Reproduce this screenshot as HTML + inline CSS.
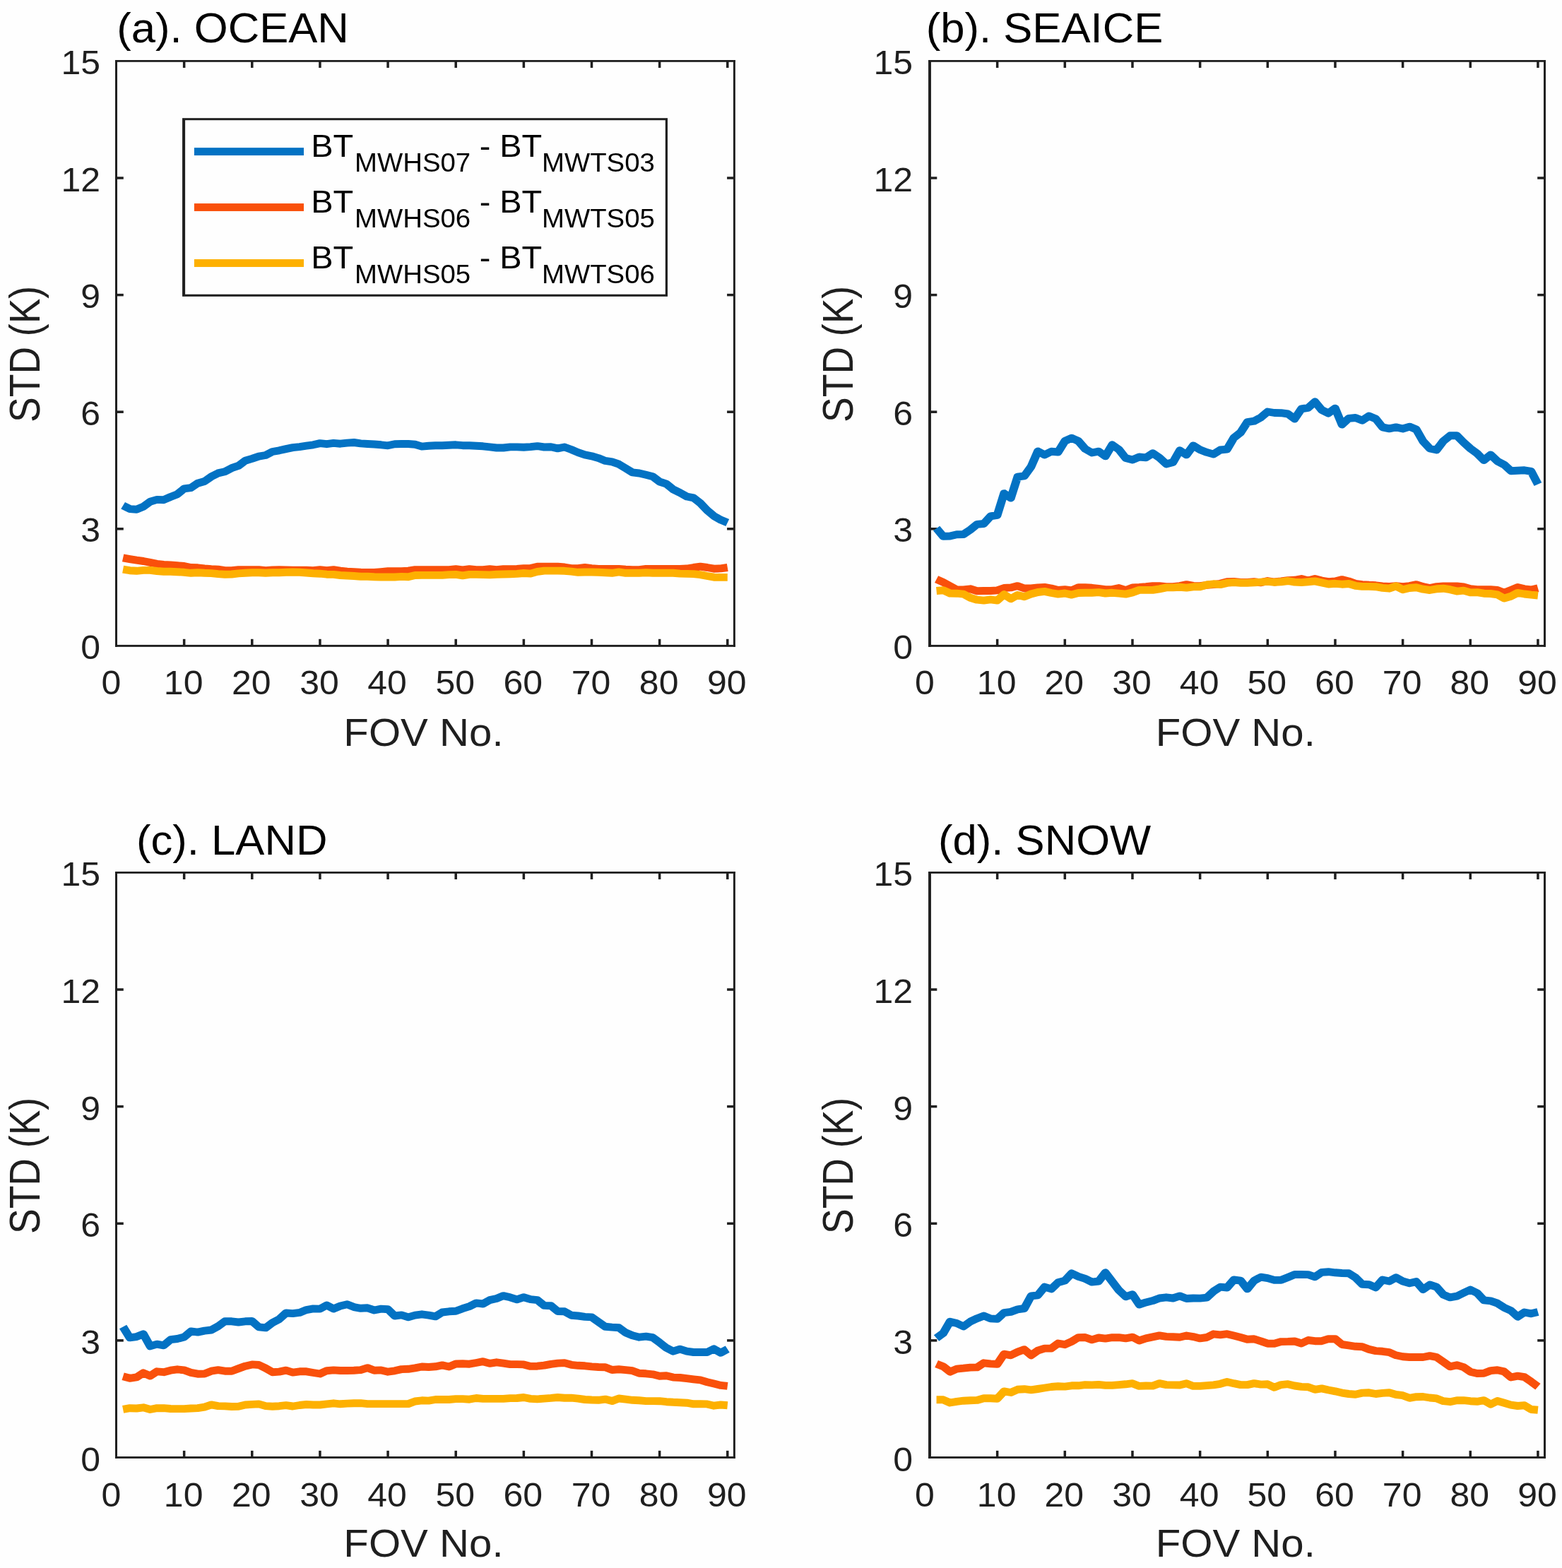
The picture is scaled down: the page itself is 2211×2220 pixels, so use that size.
<!DOCTYPE html>
<html lang="en">
<head>
<meta charset="utf-8">
<title>STD of BT differences versus FOV No.</title>
<style>
html,body{margin:0;padding:0;background:#fefefe;}
body{width:2211px;height:2220px;overflow:hidden;}
svg{display:block;}
text{font-family:"Liberation Sans", Arial, Helvetica, sans-serif;white-space:pre;}
</style>
</head>
<body>
<svg width="2211" height="2220" viewBox="0 0 2211 2220" font-family='"Liberation Sans", Arial, Helvetica, sans-serif'>
<rect x="0" y="0" width="2211" height="2220" fill="#fefefe"/>
<g id="panel-a">
<rect x="258.89" y="904.80" width="3.50" height="9.60" fill="#1f1f1f"/>
<rect x="258.89" y="86.40" width="3.50" height="9.60" fill="#1f1f1f"/>
<rect x="355.04" y="904.80" width="3.50" height="9.60" fill="#1f1f1f"/>
<rect x="355.04" y="86.40" width="3.50" height="9.60" fill="#1f1f1f"/>
<rect x="451.18" y="904.80" width="3.50" height="9.60" fill="#1f1f1f"/>
<rect x="451.18" y="86.40" width="3.50" height="9.60" fill="#1f1f1f"/>
<rect x="547.32" y="904.80" width="3.50" height="9.60" fill="#1f1f1f"/>
<rect x="547.32" y="86.40" width="3.50" height="9.60" fill="#1f1f1f"/>
<rect x="643.46" y="904.80" width="3.50" height="9.60" fill="#1f1f1f"/>
<rect x="643.46" y="86.40" width="3.50" height="9.60" fill="#1f1f1f"/>
<rect x="739.61" y="904.80" width="3.50" height="9.60" fill="#1f1f1f"/>
<rect x="739.61" y="86.40" width="3.50" height="9.60" fill="#1f1f1f"/>
<rect x="835.75" y="904.80" width="3.50" height="9.60" fill="#1f1f1f"/>
<rect x="835.75" y="86.40" width="3.50" height="9.60" fill="#1f1f1f"/>
<rect x="931.89" y="904.80" width="3.50" height="9.60" fill="#1f1f1f"/>
<rect x="931.89" y="86.40" width="3.50" height="9.60" fill="#1f1f1f"/>
<rect x="1028.04" y="904.80" width="3.50" height="9.60" fill="#1f1f1f"/>
<rect x="1028.04" y="86.40" width="3.50" height="9.60" fill="#1f1f1f"/>
<rect x="164.50" y="747.05" width="10.30" height="3.50" fill="#1f1f1f"/>
<rect x="1029.10" y="747.05" width="10.30" height="3.50" fill="#1f1f1f"/>
<rect x="164.50" y="581.45" width="10.30" height="3.50" fill="#1f1f1f"/>
<rect x="1029.10" y="581.45" width="10.30" height="3.50" fill="#1f1f1f"/>
<rect x="164.50" y="415.85" width="10.30" height="3.50" fill="#1f1f1f"/>
<rect x="1029.10" y="415.85" width="10.30" height="3.50" fill="#1f1f1f"/>
<rect x="164.50" y="250.25" width="10.30" height="3.50" fill="#1f1f1f"/>
<rect x="1029.10" y="250.25" width="10.30" height="3.50" fill="#1f1f1f"/>
<rect x="163.00" y="85.00" width="3.00" height="830.85" fill="#1f1f1f"/>
<rect x="1037.95" y="85.00" width="2.90" height="830.85" fill="#1f1f1f"/>
<rect x="163.00" y="85.00" width="877.85" height="2.80" fill="#1f1f1f"/>
<rect x="163.00" y="912.95" width="877.85" height="2.90" fill="#1f1f1f"/>
<polyline transform="scale(1.087,1)" fill="none" stroke="#0372c3" stroke-width="10.9" stroke-linejoin="round" stroke-linecap="butt" points="160.18,715.7 169.02,720.6 177.87,721.2 186.71,717.3 195.56,710.2 204.40,707.4 213.25,707.7 222.09,703.5 230.94,699.7 239.78,691.9 248.63,690.6 257.47,684.2 266.32,681.5 275.16,674.8 284.01,669.9 292.85,667.7 301.70,662.7 310.54,659.4 319.38,652.2 328.23,649.4 337.07,646.1 345.92,644.5 354.76,639.5 363.61,637.8 372.45,635.6 381.30,633.7 390.14,632.6 398.99,631.2 407.83,629.8 416.68,627.6 425.52,628.7 434.37,627.4 443.21,628.2 452.06,627.1 460.90,626.5 469.75,627.9 478.59,628.5 487.44,629.0 496.28,629.8 505.13,630.8 513.97,628.7 522.82,628.5 531.66,628.5 540.50,629.3 549.35,632.1 558.19,631.3 567.04,630.7 575.88,630.7 584.73,630.2 593.57,629.8 602.42,630.7 611.26,630.7 620.11,631.3 628.95,631.8 637.80,632.9 646.64,634.0 655.49,634.0 664.33,632.9 673.18,632.9 682.02,633.2 690.87,632.6 699.71,631.6 708.56,633.0 717.40,632.7 726.25,634.9 735.09,633.0 743.93,636.5 752.78,640.6 761.62,643.9 770.47,645.8 779.31,648.6 788.16,652.4 797.00,653.9 805.85,657.2 814.69,663.0 823.54,668.9 832.38,670.0 841.23,672.3 850.07,674.7 858.92,682.0 867.76,685.1 876.61,692.9 885.45,697.6 894.30,703.0 903.14,704.9 911.99,712.4 920.83,722.5 929.68,730.6 938.52,736.1 947.36,740.0"/>
<polyline transform="scale(1.087,1)" fill="none" stroke="#f9500b" stroke-width="10.9" stroke-linejoin="round" stroke-linecap="butt" points="160.18,789.8 169.02,791.6 177.87,793.2 186.71,794.5 195.56,796.3 204.40,798.3 213.25,799.4 222.09,799.9 230.94,800.7 239.78,801.5 248.63,803.5 257.47,803.8 266.32,805.0 275.16,805.7 284.01,806.2 292.85,807.7 301.70,807.7 310.54,806.6 319.38,806.6 328.23,806.6 337.07,806.6 345.92,807.7 354.76,806.9 363.61,806.6 372.45,806.9 381.30,807.2 390.14,807.2 398.99,807.2 407.83,807.7 416.68,806.6 425.52,807.7 434.37,806.6 443.21,808.1 452.06,809.2 460.90,809.6 469.75,810.3 478.59,810.5 487.44,810.5 496.28,809.6 505.13,808.8 513.97,808.8 522.82,808.8 531.66,808.1 540.50,806.6 549.35,806.6 558.19,806.6 567.04,806.6 575.88,806.6 584.73,806.6 593.57,805.7 602.42,806.9 611.26,805.7 620.11,806.6 628.95,806.6 637.80,805.7 646.64,806.6 655.49,805.7 664.33,805.7 673.18,805.4 682.02,804.6 690.87,804.6 699.71,802.2 708.56,802.2 717.40,802.2 726.25,802.2 735.09,803.0 743.93,804.6 752.78,804.6 761.62,803.5 770.47,804.6 779.31,805.4 788.16,805.4 797.00,805.4 805.85,805.4 814.69,806.2 823.54,806.6 832.38,806.6 841.23,805.4 850.07,805.4 858.92,805.4 867.76,805.4 876.61,805.4 885.45,805.4 894.30,805.0 903.14,803.5 911.99,802.2 920.83,803.5 929.68,805.2 938.52,804.9 947.36,803.5"/>
<polyline transform="scale(1.087,1)" fill="none" stroke="#fdb001" stroke-width="10.9" stroke-linejoin="round" stroke-linecap="butt" points="160.18,806.2 169.02,807.7 177.87,808.3 186.71,807.4 195.56,807.4 204.40,808.5 213.25,809.2 222.09,809.2 230.94,809.7 239.78,810.3 248.63,811.3 257.47,810.8 266.32,811.3 275.16,811.6 284.01,812.6 292.85,813.2 301.70,813.0 310.54,811.9 319.38,811.3 328.23,810.8 337.07,810.8 345.92,811.3 354.76,810.7 363.61,810.7 372.45,810.3 381.30,810.0 390.14,810.3 398.99,811.0 407.83,811.7 416.68,812.2 425.52,813.2 434.37,813.4 443.21,814.5 452.06,815.0 460.90,815.5 469.75,816.3 478.59,816.3 487.44,816.8 496.28,817.0 505.13,817.0 513.97,817.0 522.82,816.4 531.66,816.8 540.50,814.5 549.35,814.4 558.19,814.4 567.04,814.4 575.88,814.4 584.73,813.6 593.57,813.4 602.42,814.9 611.26,813.4 620.11,813.4 628.95,813.6 637.80,813.9 646.64,813.2 655.49,813.0 664.33,812.7 673.18,812.4 682.02,811.5 690.87,812.1 699.71,809.4 708.56,808.1 717.40,808.1 726.25,808.1 735.09,808.3 743.93,809.2 752.78,810.3 761.62,810.0 770.47,810.0 779.31,810.3 788.16,810.8 797.00,811.3 805.85,809.9 814.69,811.3 823.54,811.3 832.38,811.3 841.23,810.8 850.07,811.3 858.92,811.3 867.76,811.3 876.61,811.3 885.45,812.1 894.30,812.4 903.14,812.6 911.99,813.6 920.83,815.5 929.68,817.2 938.52,817.4 947.36,817.4"/>
<text transform="translate(157.30,982.80) scale(1.087,1.04)" font-size="46.0" text-anchor="middle" fill="#1f1f1f">0</text>
<text transform="translate(259.64,982.80) scale(1.087,1.04)" font-size="46.0" text-anchor="middle" fill="#1f1f1f">10</text>
<text transform="translate(355.79,982.80) scale(1.087,1.04)" font-size="46.0" text-anchor="middle" fill="#1f1f1f">20</text>
<text transform="translate(451.93,982.80) scale(1.087,1.04)" font-size="46.0" text-anchor="middle" fill="#1f1f1f">30</text>
<text transform="translate(548.07,982.80) scale(1.087,1.04)" font-size="46.0" text-anchor="middle" fill="#1f1f1f">40</text>
<text transform="translate(644.21,982.80) scale(1.087,1.04)" font-size="46.0" text-anchor="middle" fill="#1f1f1f">50</text>
<text transform="translate(740.36,982.80) scale(1.087,1.04)" font-size="46.0" text-anchor="middle" fill="#1f1f1f">60</text>
<text transform="translate(836.50,982.80) scale(1.087,1.04)" font-size="46.0" text-anchor="middle" fill="#1f1f1f">70</text>
<text transform="translate(932.64,982.80) scale(1.087,1.04)" font-size="46.0" text-anchor="middle" fill="#1f1f1f">80</text>
<text transform="translate(1028.79,982.80) scale(1.087,1.04)" font-size="46.0" text-anchor="middle" fill="#1f1f1f">90</text>
<text transform="translate(142.10,932.90) scale(1.087,1.04)" font-size="46.0" text-anchor="end" fill="#1f1f1f">0</text>
<text transform="translate(142.10,767.30) scale(1.087,1.04)" font-size="46.0" text-anchor="end" fill="#1f1f1f">3</text>
<text transform="translate(142.10,601.70) scale(1.087,1.04)" font-size="46.0" text-anchor="end" fill="#1f1f1f">6</text>
<text transform="translate(142.10,436.10) scale(1.087,1.04)" font-size="46.0" text-anchor="end" fill="#1f1f1f">9</text>
<text transform="translate(142.10,270.50) scale(1.087,1.04)" font-size="46.0" text-anchor="end" fill="#1f1f1f">12</text>
<text transform="translate(142.10,104.90) scale(1.087,1.04)" font-size="46.0" text-anchor="end" fill="#1f1f1f">15</text>
<text transform="translate(599.45,1055.70) scale(1.087,1.04)" font-size="53.5" text-anchor="middle" fill="#1f1f1f">FOV No.</text>
<text transform="translate(55.90,501.40) scale(1.1305,1) rotate(-90)" font-size="53.5" text-anchor="middle" fill="#1f1f1f">STD (K)</text>
<text transform="translate(165.20,59.90) scale(1.087,1.04)" font-size="56.7" text-anchor="start" fill="#000">(a). OCEAN</text>
<g id="legend">
<rect x="258.05" y="167.20" width="686.95" height="252.60" fill="#1f1f1f"/>
<rect x="262.10" y="170.20" width="679.70" height="246.50" fill="#fefefe"/>
<rect x="274.90" y="209.15" width="155.10" height="10.90" fill="#0372c3"/>
<text transform="translate(440.30,222.00) scale(1.087,1.04)" font-size="43.2" text-anchor="start" fill="#000">BT</text>
<text transform="translate(502.00,242.60) scale(1.087,1.04)" font-size="35.3" text-anchor="start" fill="#000">MWHS07</text>
<text transform="translate(665.60,222.00) scale(1.087,1.04)" font-size="43.2" text-anchor="start" fill="#000"> - BT</text>
<text transform="translate(767.00,242.60) scale(1.087,1.04)" font-size="35.3" text-anchor="start" fill="#000">MWTS03</text>
<rect x="274.90" y="288.05" width="155.10" height="10.90" fill="#f9500b"/>
<text transform="translate(440.30,300.90) scale(1.087,1.04)" font-size="43.2" text-anchor="start" fill="#000">BT</text>
<text transform="translate(502.00,321.50) scale(1.087,1.04)" font-size="35.3" text-anchor="start" fill="#000">MWHS06</text>
<text transform="translate(665.60,300.90) scale(1.087,1.04)" font-size="43.2" text-anchor="start" fill="#000"> - BT</text>
<text transform="translate(767.00,321.50) scale(1.087,1.04)" font-size="35.3" text-anchor="start" fill="#000">MWTS05</text>
<rect x="274.90" y="367.05" width="155.10" height="10.90" fill="#fdb001"/>
<text transform="translate(440.30,379.90) scale(1.087,1.04)" font-size="43.2" text-anchor="start" fill="#000">BT</text>
<text transform="translate(502.00,400.50) scale(1.087,1.04)" font-size="35.3" text-anchor="start" fill="#000">MWHS05</text>
<text transform="translate(665.60,379.90) scale(1.087,1.04)" font-size="43.2" text-anchor="start" fill="#000"> - BT</text>
<text transform="translate(767.00,400.50) scale(1.087,1.04)" font-size="35.3" text-anchor="start" fill="#000">MWTS06</text>
</g>
</g>
<g id="panel-b">
<rect x="1409.91" y="904.80" width="3.50" height="9.60" fill="#1f1f1f"/>
<rect x="1409.91" y="86.40" width="3.50" height="9.60" fill="#1f1f1f"/>
<rect x="1505.57" y="904.80" width="3.50" height="9.60" fill="#1f1f1f"/>
<rect x="1505.57" y="86.40" width="3.50" height="9.60" fill="#1f1f1f"/>
<rect x="1601.23" y="904.80" width="3.50" height="9.60" fill="#1f1f1f"/>
<rect x="1601.23" y="86.40" width="3.50" height="9.60" fill="#1f1f1f"/>
<rect x="1696.89" y="904.80" width="3.50" height="9.60" fill="#1f1f1f"/>
<rect x="1696.89" y="86.40" width="3.50" height="9.60" fill="#1f1f1f"/>
<rect x="1792.55" y="904.80" width="3.50" height="9.60" fill="#1f1f1f"/>
<rect x="1792.55" y="86.40" width="3.50" height="9.60" fill="#1f1f1f"/>
<rect x="1888.21" y="904.80" width="3.50" height="9.60" fill="#1f1f1f"/>
<rect x="1888.21" y="86.40" width="3.50" height="9.60" fill="#1f1f1f"/>
<rect x="1983.87" y="904.80" width="3.50" height="9.60" fill="#1f1f1f"/>
<rect x="1983.87" y="86.40" width="3.50" height="9.60" fill="#1f1f1f"/>
<rect x="2079.52" y="904.80" width="3.50" height="9.60" fill="#1f1f1f"/>
<rect x="2079.52" y="86.40" width="3.50" height="9.60" fill="#1f1f1f"/>
<rect x="2175.18" y="904.80" width="3.50" height="9.60" fill="#1f1f1f"/>
<rect x="2175.18" y="86.40" width="3.50" height="9.60" fill="#1f1f1f"/>
<rect x="1316.00" y="747.05" width="10.30" height="3.50" fill="#1f1f1f"/>
<rect x="2176.20" y="747.05" width="10.30" height="3.50" fill="#1f1f1f"/>
<rect x="1316.00" y="581.45" width="10.30" height="3.50" fill="#1f1f1f"/>
<rect x="2176.20" y="581.45" width="10.30" height="3.50" fill="#1f1f1f"/>
<rect x="1316.00" y="415.85" width="10.30" height="3.50" fill="#1f1f1f"/>
<rect x="2176.20" y="415.85" width="10.30" height="3.50" fill="#1f1f1f"/>
<rect x="1316.00" y="250.25" width="10.30" height="3.50" fill="#1f1f1f"/>
<rect x="2176.20" y="250.25" width="10.30" height="3.50" fill="#1f1f1f"/>
<rect x="1314.05" y="85.00" width="3.90" height="830.85" fill="#1f1f1f"/>
<rect x="2185.00" y="85.00" width="3.00" height="830.85" fill="#1f1f1f"/>
<rect x="1314.05" y="85.00" width="873.95" height="2.80" fill="#1f1f1f"/>
<rect x="1314.05" y="912.95" width="873.95" height="2.90" fill="#1f1f1f"/>
<polyline transform="scale(1.087,1)" fill="none" stroke="#0372c3" stroke-width="10.9" stroke-linejoin="round" stroke-linecap="butt" points="1219.47,748.0 1228.27,759.3 1237.07,759.0 1245.87,756.7 1254.67,756.5 1263.47,750.1 1272.27,742.4 1281.07,741.5 1289.87,730.9 1298.67,729.3 1307.47,698.6 1316.28,705.1 1325.08,675.2 1333.88,673.9 1342.68,660.7 1351.48,638.9 1360.28,644.0 1369.08,639.3 1377.88,640.0 1386.68,624.5 1395.48,620.2 1404.28,624.5 1413.08,635.5 1421.88,641.0 1430.68,639.2 1439.48,645.9 1448.28,629.8 1457.08,636.5 1465.88,648.6 1474.68,651.0 1483.48,647.0 1492.28,647.9 1501.08,641.7 1509.88,648.2 1518.68,656.9 1527.48,654.5 1536.28,637.8 1545.08,643.9 1553.88,630.9 1562.68,636.7 1571.48,640.4 1580.28,643.1 1589.08,637.0 1597.89,636.1 1606.69,619.9 1615.49,612.4 1624.29,597.6 1633.09,596.2 1641.89,591.1 1650.69,583.0 1659.49,584.5 1668.29,584.7 1677.09,586.0 1685.89,593.0 1694.69,578.8 1703.49,577.3 1712.29,568.8 1721.09,580.4 1729.89,585.1 1738.69,578.1 1747.49,601.1 1756.29,592.4 1765.09,591.5 1773.89,595.2 1782.69,589.0 1791.49,592.9 1800.29,604.9 1809.09,606.8 1817.89,604.9 1826.69,607.0 1835.49,604.1 1844.29,608.0 1853.09,624.8 1861.89,635.0 1870.69,637.0 1879.49,624.5 1888.30,616.8 1897.10,616.8 1905.90,626.4 1914.70,635.0 1923.50,642.0 1932.30,651.6 1941.10,643.9 1949.90,652.9 1958.70,657.9 1967.50,666.7 1976.30,666.3 1985.10,665.8 1993.90,667.3 2002.70,685.7"/>
<polyline transform="scale(1.087,1)" fill="none" stroke="#f9500b" stroke-width="10.9" stroke-linejoin="round" stroke-linecap="butt" points="1219.47,820.2 1228.27,824.4 1237.07,829.6 1245.87,834.9 1254.67,835.0 1263.47,833.8 1272.27,836.7 1281.07,836.5 1289.87,836.5 1298.67,835.9 1307.47,832.5 1316.28,831.9 1325.08,829.6 1333.88,833.0 1342.68,833.0 1351.48,831.9 1360.28,831.4 1369.08,833.0 1377.88,835.4 1386.68,834.6 1395.48,835.9 1404.28,831.8 1413.08,831.8 1421.88,832.3 1430.68,833.5 1439.48,834.6 1448.28,834.6 1457.08,832.5 1465.88,835.7 1474.68,831.9 1483.48,831.4 1492.28,830.7 1501.08,829.6 1509.88,829.6 1518.68,830.7 1527.48,830.7 1536.28,829.6 1545.08,827.6 1553.88,829.4 1562.68,829.6 1571.48,828.3 1580.28,827.6 1589.08,826.3 1597.89,823.7 1606.69,823.4 1615.49,824.4 1624.29,824.4 1633.09,823.7 1641.89,824.8 1650.69,822.5 1659.49,824.0 1668.29,822.9 1677.09,821.6 1685.89,821.3 1694.69,819.5 1703.49,822.1 1712.29,819.5 1721.09,822.1 1729.89,823.7 1738.69,822.9 1747.49,820.6 1756.29,822.9 1765.09,826.3 1773.89,827.6 1782.69,828.3 1791.49,828.8 1800.29,829.9 1809.09,830.4 1817.89,829.6 1826.69,830.7 1835.49,829.6 1844.29,827.6 1853.09,830.7 1861.89,832.5 1870.69,830.7 1879.49,829.9 1888.30,829.9 1897.10,829.9 1905.90,831.0 1914.70,833.8 1923.50,834.6 1932.30,834.6 1941.10,834.6 1949.90,835.4 1958.70,839.3 1967.50,835.4 1976.30,831.4 1985.10,833.8 1993.90,835.0 2002.70,832.7"/>
<polyline transform="scale(1.087,1)" fill="none" stroke="#fdb001" stroke-width="10.9" stroke-linejoin="round" stroke-linecap="butt" points="1219.47,836.5 1228.27,835.7 1237.07,840.0 1245.87,840.2 1254.67,841.1 1263.47,846.3 1272.27,849.2 1281.07,850.1 1289.87,848.9 1298.67,850.1 1307.47,841.6 1316.28,847.8 1325.08,842.4 1333.88,844.8 1342.68,841.1 1351.48,838.5 1360.28,837.4 1369.08,839.5 1377.88,841.1 1386.68,840.0 1395.48,842.1 1404.28,839.5 1413.08,839.3 1421.88,839.3 1430.68,838.6 1439.48,840.0 1448.28,839.3 1457.08,840.2 1465.88,841.1 1474.68,838.9 1483.48,835.4 1492.28,835.4 1501.08,835.4 1509.88,833.8 1518.68,831.9 1527.48,831.9 1536.28,831.3 1545.08,832.1 1553.88,830.8 1562.68,830.8 1571.48,828.0 1580.28,826.8 1589.08,827.6 1597.89,825.4 1606.69,824.6 1615.49,825.2 1624.29,825.2 1633.09,824.8 1641.89,824.1 1650.69,823.4 1659.49,824.3 1668.29,823.8 1677.09,822.5 1685.89,824.1 1694.69,824.6 1703.49,823.8 1712.29,822.9 1721.09,824.9 1729.89,827.0 1738.69,826.3 1747.49,827.2 1756.29,826.5 1765.09,829.3 1773.89,830.4 1782.69,830.4 1791.49,830.7 1800.29,832.3 1809.09,833.2 1817.89,829.9 1826.69,834.7 1835.49,832.5 1844.29,831.8 1853.09,834.2 1861.89,835.5 1870.69,833.8 1879.49,833.2 1888.30,834.7 1897.10,837.1 1905.90,836.1 1914.70,838.9 1923.50,838.6 1932.30,840.2 1941.10,840.5 1949.90,841.8 1958.70,847.1 1967.50,844.2 1976.30,839.4 1985.10,841.0 1993.90,842.1 2002.70,843.0"/>
<text transform="translate(1308.80,982.80) scale(1.087,1.04)" font-size="46.0" text-anchor="middle" fill="#1f1f1f">0</text>
<text transform="translate(1410.66,982.80) scale(1.087,1.04)" font-size="46.0" text-anchor="middle" fill="#1f1f1f">10</text>
<text transform="translate(1506.32,982.80) scale(1.087,1.04)" font-size="46.0" text-anchor="middle" fill="#1f1f1f">20</text>
<text transform="translate(1601.98,982.80) scale(1.087,1.04)" font-size="46.0" text-anchor="middle" fill="#1f1f1f">30</text>
<text transform="translate(1697.64,982.80) scale(1.087,1.04)" font-size="46.0" text-anchor="middle" fill="#1f1f1f">40</text>
<text transform="translate(1793.30,982.80) scale(1.087,1.04)" font-size="46.0" text-anchor="middle" fill="#1f1f1f">50</text>
<text transform="translate(1888.96,982.80) scale(1.087,1.04)" font-size="46.0" text-anchor="middle" fill="#1f1f1f">60</text>
<text transform="translate(1984.62,982.80) scale(1.087,1.04)" font-size="46.0" text-anchor="middle" fill="#1f1f1f">70</text>
<text transform="translate(2080.27,982.80) scale(1.087,1.04)" font-size="46.0" text-anchor="middle" fill="#1f1f1f">80</text>
<text transform="translate(2175.93,982.80) scale(1.087,1.04)" font-size="46.0" text-anchor="middle" fill="#1f1f1f">90</text>
<text transform="translate(1292.10,932.90) scale(1.087,1.04)" font-size="46.0" text-anchor="end" fill="#1f1f1f">0</text>
<text transform="translate(1292.10,767.30) scale(1.087,1.04)" font-size="46.0" text-anchor="end" fill="#1f1f1f">3</text>
<text transform="translate(1292.10,601.70) scale(1.087,1.04)" font-size="46.0" text-anchor="end" fill="#1f1f1f">6</text>
<text transform="translate(1292.10,436.10) scale(1.087,1.04)" font-size="46.0" text-anchor="end" fill="#1f1f1f">9</text>
<text transform="translate(1292.10,270.50) scale(1.087,1.04)" font-size="46.0" text-anchor="end" fill="#1f1f1f">12</text>
<text transform="translate(1292.10,104.90) scale(1.087,1.04)" font-size="46.0" text-anchor="end" fill="#1f1f1f">15</text>
<text transform="translate(1748.75,1055.70) scale(1.087,1.04)" font-size="53.5" text-anchor="middle" fill="#1f1f1f">FOV No.</text>
<text transform="translate(1207.40,501.40) scale(1.1305,1) rotate(-90)" font-size="53.5" text-anchor="middle" fill="#1f1f1f">STD (K)</text>
<text transform="translate(1310.70,59.90) scale(1.087,1.04)" font-size="56.7" text-anchor="start" fill="#000">(b). SEAICE</text>
</g>
<g id="panel-c">
<rect x="258.89" y="2053.90" width="3.50" height="9.60" fill="#1f1f1f"/>
<rect x="258.89" y="1235.40" width="3.50" height="9.60" fill="#1f1f1f"/>
<rect x="355.04" y="2053.90" width="3.50" height="9.60" fill="#1f1f1f"/>
<rect x="355.04" y="1235.40" width="3.50" height="9.60" fill="#1f1f1f"/>
<rect x="451.18" y="2053.90" width="3.50" height="9.60" fill="#1f1f1f"/>
<rect x="451.18" y="1235.40" width="3.50" height="9.60" fill="#1f1f1f"/>
<rect x="547.32" y="2053.90" width="3.50" height="9.60" fill="#1f1f1f"/>
<rect x="547.32" y="1235.40" width="3.50" height="9.60" fill="#1f1f1f"/>
<rect x="643.46" y="2053.90" width="3.50" height="9.60" fill="#1f1f1f"/>
<rect x="643.46" y="1235.40" width="3.50" height="9.60" fill="#1f1f1f"/>
<rect x="739.61" y="2053.90" width="3.50" height="9.60" fill="#1f1f1f"/>
<rect x="739.61" y="1235.40" width="3.50" height="9.60" fill="#1f1f1f"/>
<rect x="835.75" y="2053.90" width="3.50" height="9.60" fill="#1f1f1f"/>
<rect x="835.75" y="1235.40" width="3.50" height="9.60" fill="#1f1f1f"/>
<rect x="931.89" y="2053.90" width="3.50" height="9.60" fill="#1f1f1f"/>
<rect x="931.89" y="1235.40" width="3.50" height="9.60" fill="#1f1f1f"/>
<rect x="1028.04" y="2053.90" width="3.50" height="9.60" fill="#1f1f1f"/>
<rect x="1028.04" y="1235.40" width="3.50" height="9.60" fill="#1f1f1f"/>
<rect x="164.50" y="1896.13" width="10.30" height="3.50" fill="#1f1f1f"/>
<rect x="1029.10" y="1896.13" width="10.30" height="3.50" fill="#1f1f1f"/>
<rect x="164.50" y="1730.51" width="10.30" height="3.50" fill="#1f1f1f"/>
<rect x="1029.10" y="1730.51" width="10.30" height="3.50" fill="#1f1f1f"/>
<rect x="164.50" y="1564.89" width="10.30" height="3.50" fill="#1f1f1f"/>
<rect x="1029.10" y="1564.89" width="10.30" height="3.50" fill="#1f1f1f"/>
<rect x="164.50" y="1399.27" width="10.30" height="3.50" fill="#1f1f1f"/>
<rect x="1029.10" y="1399.27" width="10.30" height="3.50" fill="#1f1f1f"/>
<rect x="163.00" y="1234.00" width="3.00" height="830.95" fill="#1f1f1f"/>
<rect x="1037.95" y="1234.00" width="2.90" height="830.95" fill="#1f1f1f"/>
<rect x="163.00" y="1234.00" width="877.85" height="2.80" fill="#1f1f1f"/>
<rect x="163.00" y="2062.05" width="877.85" height="2.90" fill="#1f1f1f"/>
<polyline transform="scale(1.087,1)" fill="none" stroke="#0372c3" stroke-width="10.9" stroke-linejoin="round" stroke-linecap="butt" points="160.18,1878.6 169.02,1893.9 177.87,1892.6 186.71,1888.8 195.56,1905.9 204.40,1903.1 213.25,1904.8 222.09,1896.7 230.94,1895.5 239.78,1893.0 248.63,1884.9 257.47,1886.1 266.32,1884.1 275.16,1883.0 284.01,1877.8 292.85,1870.8 301.70,1870.8 310.54,1872.0 319.38,1870.8 328.23,1870.5 337.07,1878.9 345.92,1879.9 354.76,1872.7 363.61,1867.7 372.45,1859.0 381.30,1859.6 390.14,1858.4 398.99,1854.6 407.83,1852.9 416.68,1853.1 425.52,1847.9 434.37,1852.9 443.21,1849.0 452.06,1846.8 460.90,1850.6 469.75,1852.3 478.59,1851.8 487.44,1855.0 496.28,1853.1 505.13,1853.7 513.97,1863.0 522.82,1861.9 531.66,1864.9 540.50,1862.1 549.35,1860.8 558.19,1862.1 567.04,1863.9 575.88,1858.0 584.73,1856.8 593.57,1856.3 602.42,1852.7 611.26,1849.6 620.11,1844.9 628.95,1846.0 637.80,1840.6 646.64,1838.5 655.49,1834.6 664.33,1836.8 673.18,1839.9 682.02,1836.7 690.87,1839.6 699.71,1840.6 708.56,1848.4 717.40,1848.7 726.25,1856.5 735.09,1856.8 743.93,1862.2 752.78,1863.0 761.62,1864.4 770.47,1864.9 779.31,1871.6 788.16,1878.3 797.00,1879.1 805.85,1879.7 814.69,1886.7 823.54,1890.8 832.38,1893.2 841.23,1892.2 850.07,1893.7 858.92,1900.8 867.76,1908.3 876.61,1913.2 885.45,1910.1 894.30,1913.1 903.14,1914.5 911.99,1914.5 920.83,1914.5 929.68,1909.8 938.52,1915.3 947.36,1910.1"/>
<polyline transform="scale(1.087,1)" fill="none" stroke="#f9500b" stroke-width="10.9" stroke-linejoin="round" stroke-linecap="butt" points="160.18,1948.8 169.02,1951.3 177.87,1949.9 186.71,1943.8 195.56,1948.0 204.40,1941.8 213.25,1942.7 222.09,1940.2 230.94,1938.8 239.78,1939.9 248.63,1943.3 257.47,1945.2 266.32,1945.0 275.16,1941.2 284.01,1939.7 292.85,1941.2 301.70,1941.2 310.54,1937.6 319.38,1934.2 328.23,1931.9 337.07,1932.5 345.92,1937.1 354.76,1942.7 363.61,1942.1 372.45,1940.1 381.30,1943.1 390.14,1941.8 398.99,1941.8 407.83,1943.5 416.68,1945.0 425.52,1940.7 434.37,1939.9 443.21,1940.5 452.06,1940.5 460.90,1940.3 469.75,1939.6 478.59,1936.6 487.44,1940.3 496.28,1939.9 505.13,1942.2 513.97,1940.8 522.82,1938.6 531.66,1938.3 540.50,1936.9 549.35,1935.0 558.19,1935.5 567.04,1934.8 575.88,1932.9 584.73,1935.0 593.57,1931.0 602.42,1930.8 611.26,1931.2 620.11,1929.5 628.95,1927.7 637.80,1930.4 646.64,1928.8 655.49,1930.1 664.33,1931.6 673.18,1931.6 682.02,1931.9 690.87,1934.4 699.71,1934.2 708.56,1933.2 717.40,1931.3 726.25,1930.1 735.09,1929.6 743.93,1932.3 752.78,1933.3 761.62,1933.8 770.47,1934.9 779.31,1935.5 788.16,1935.7 797.00,1939.5 805.85,1938.8 814.69,1939.6 823.54,1940.7 832.38,1944.3 841.23,1944.8 850.07,1945.8 858.92,1948.2 867.76,1947.7 876.61,1950.1 885.45,1950.5 894.30,1951.6 903.14,1952.8 911.99,1953.9 920.83,1956.7 929.68,1959.0 938.52,1961.4 947.36,1962.4"/>
<polyline transform="scale(1.087,1)" fill="none" stroke="#fdb001" stroke-width="10.9" stroke-linejoin="round" stroke-linecap="butt" points="160.18,1995.3 169.02,1993.7 177.87,1994.0 186.71,1992.8 195.56,1995.5 204.40,1993.7 213.25,1993.6 222.09,1994.5 230.94,1994.6 239.78,1994.6 248.63,1994.0 257.47,1993.6 266.32,1992.1 275.16,1988.9 284.01,1990.6 292.85,1990.9 301.70,1991.5 310.54,1991.3 319.38,1989.0 328.23,1988.4 337.07,1987.9 345.92,1990.6 354.76,1991.3 363.61,1990.7 372.45,1989.6 381.30,1991.0 390.14,1989.5 398.99,1988.5 407.83,1989.0 416.68,1989.0 425.52,1987.9 434.37,1986.8 443.21,1987.8 452.06,1987.1 460.90,1986.7 469.75,1986.7 478.59,1987.6 487.44,1987.6 496.28,1987.6 505.13,1987.6 513.97,1987.6 522.82,1987.6 531.66,1987.6 540.50,1984.0 549.35,1982.8 558.19,1983.1 567.04,1981.5 575.88,1981.5 584.73,1981.5 593.57,1980.6 602.42,1980.6 611.26,1981.2 620.11,1979.5 628.95,1980.4 637.80,1980.4 646.64,1980.4 655.49,1980.4 664.33,1979.6 673.18,1979.5 682.02,1978.5 690.87,1980.4 699.71,1980.9 708.56,1980.1 717.40,1979.4 726.25,1978.5 735.09,1979.2 743.93,1979.2 752.78,1980.1 761.62,1981.5 770.47,1982.0 779.31,1982.3 788.16,1981.1 797.00,1983.6 805.85,1980.0 814.69,1981.1 823.54,1982.3 832.38,1982.8 841.23,1983.6 850.07,1983.6 858.92,1983.7 867.76,1984.7 876.61,1985.3 885.45,1985.7 894.30,1986.2 903.14,1987.8 911.99,1987.8 920.83,1987.9 929.68,1990.2 938.52,1989.0 947.36,1989.8"/>
<text transform="translate(157.30,2132.90) scale(1.087,1.04)" font-size="46.0" text-anchor="middle" fill="#1f1f1f">0</text>
<text transform="translate(259.64,2132.90) scale(1.087,1.04)" font-size="46.0" text-anchor="middle" fill="#1f1f1f">10</text>
<text transform="translate(355.79,2132.90) scale(1.087,1.04)" font-size="46.0" text-anchor="middle" fill="#1f1f1f">20</text>
<text transform="translate(451.93,2132.90) scale(1.087,1.04)" font-size="46.0" text-anchor="middle" fill="#1f1f1f">30</text>
<text transform="translate(548.07,2132.90) scale(1.087,1.04)" font-size="46.0" text-anchor="middle" fill="#1f1f1f">40</text>
<text transform="translate(644.21,2132.90) scale(1.087,1.04)" font-size="46.0" text-anchor="middle" fill="#1f1f1f">50</text>
<text transform="translate(740.36,2132.90) scale(1.087,1.04)" font-size="46.0" text-anchor="middle" fill="#1f1f1f">60</text>
<text transform="translate(836.50,2132.90) scale(1.087,1.04)" font-size="46.0" text-anchor="middle" fill="#1f1f1f">70</text>
<text transform="translate(932.64,2132.90) scale(1.087,1.04)" font-size="46.0" text-anchor="middle" fill="#1f1f1f">80</text>
<text transform="translate(1028.79,2132.90) scale(1.087,1.04)" font-size="46.0" text-anchor="middle" fill="#1f1f1f">90</text>
<text transform="translate(142.10,2082.50) scale(1.087,1.04)" font-size="46.0" text-anchor="end" fill="#1f1f1f">0</text>
<text transform="translate(142.10,1916.88) scale(1.087,1.04)" font-size="46.0" text-anchor="end" fill="#1f1f1f">3</text>
<text transform="translate(142.10,1751.26) scale(1.087,1.04)" font-size="46.0" text-anchor="end" fill="#1f1f1f">6</text>
<text transform="translate(142.10,1585.64) scale(1.087,1.04)" font-size="46.0" text-anchor="end" fill="#1f1f1f">9</text>
<text transform="translate(142.10,1420.02) scale(1.087,1.04)" font-size="46.0" text-anchor="end" fill="#1f1f1f">12</text>
<text transform="translate(142.10,1254.40) scale(1.087,1.04)" font-size="46.0" text-anchor="end" fill="#1f1f1f">15</text>
<text transform="translate(599.45,2203.90) scale(1.087,1.04)" font-size="53.5" text-anchor="middle" fill="#1f1f1f">FOV No.</text>
<text transform="translate(55.90,1650.45) scale(1.1305,1) rotate(-90)" font-size="53.5" text-anchor="middle" fill="#1f1f1f">STD (K)</text>
<text transform="translate(193.00,1209.70) scale(1.087,1.04)" font-size="56.7" text-anchor="start" fill="#000">(c). LAND</text>
</g>
<g id="panel-d">
<rect x="1409.91" y="2053.90" width="3.50" height="9.60" fill="#1f1f1f"/>
<rect x="1409.91" y="1235.40" width="3.50" height="9.60" fill="#1f1f1f"/>
<rect x="1505.57" y="2053.90" width="3.50" height="9.60" fill="#1f1f1f"/>
<rect x="1505.57" y="1235.40" width="3.50" height="9.60" fill="#1f1f1f"/>
<rect x="1601.23" y="2053.90" width="3.50" height="9.60" fill="#1f1f1f"/>
<rect x="1601.23" y="1235.40" width="3.50" height="9.60" fill="#1f1f1f"/>
<rect x="1696.89" y="2053.90" width="3.50" height="9.60" fill="#1f1f1f"/>
<rect x="1696.89" y="1235.40" width="3.50" height="9.60" fill="#1f1f1f"/>
<rect x="1792.55" y="2053.90" width="3.50" height="9.60" fill="#1f1f1f"/>
<rect x="1792.55" y="1235.40" width="3.50" height="9.60" fill="#1f1f1f"/>
<rect x="1888.21" y="2053.90" width="3.50" height="9.60" fill="#1f1f1f"/>
<rect x="1888.21" y="1235.40" width="3.50" height="9.60" fill="#1f1f1f"/>
<rect x="1983.87" y="2053.90" width="3.50" height="9.60" fill="#1f1f1f"/>
<rect x="1983.87" y="1235.40" width="3.50" height="9.60" fill="#1f1f1f"/>
<rect x="2079.52" y="2053.90" width="3.50" height="9.60" fill="#1f1f1f"/>
<rect x="2079.52" y="1235.40" width="3.50" height="9.60" fill="#1f1f1f"/>
<rect x="2175.18" y="2053.90" width="3.50" height="9.60" fill="#1f1f1f"/>
<rect x="2175.18" y="1235.40" width="3.50" height="9.60" fill="#1f1f1f"/>
<rect x="1316.00" y="1896.13" width="10.30" height="3.50" fill="#1f1f1f"/>
<rect x="2176.20" y="1896.13" width="10.30" height="3.50" fill="#1f1f1f"/>
<rect x="1316.00" y="1730.51" width="10.30" height="3.50" fill="#1f1f1f"/>
<rect x="2176.20" y="1730.51" width="10.30" height="3.50" fill="#1f1f1f"/>
<rect x="1316.00" y="1564.89" width="10.30" height="3.50" fill="#1f1f1f"/>
<rect x="2176.20" y="1564.89" width="10.30" height="3.50" fill="#1f1f1f"/>
<rect x="1316.00" y="1399.27" width="10.30" height="3.50" fill="#1f1f1f"/>
<rect x="2176.20" y="1399.27" width="10.30" height="3.50" fill="#1f1f1f"/>
<rect x="1314.05" y="1234.00" width="3.90" height="830.95" fill="#1f1f1f"/>
<rect x="2185.00" y="1234.00" width="3.00" height="830.95" fill="#1f1f1f"/>
<rect x="1314.05" y="1234.00" width="873.95" height="2.80" fill="#1f1f1f"/>
<rect x="1314.05" y="2062.05" width="873.95" height="2.90" fill="#1f1f1f"/>
<polyline transform="scale(1.087,1)" fill="none" stroke="#0372c3" stroke-width="10.9" stroke-linejoin="round" stroke-linecap="butt" points="1219.47,1894.6 1228.27,1887.6 1237.07,1871.2 1245.87,1873.5 1254.67,1878.0 1263.47,1871.2 1272.27,1866.7 1281.07,1862.9 1289.87,1866.9 1298.67,1867.4 1307.47,1858.7 1316.28,1857.4 1325.08,1853.9 1333.88,1852.5 1342.68,1834.9 1351.48,1833.8 1360.28,1822.1 1369.08,1824.9 1377.88,1815.8 1386.68,1813.1 1395.48,1802.9 1404.28,1807.3 1413.08,1810.4 1421.88,1815.1 1430.68,1814.0 1439.48,1801.8 1448.28,1814.3 1457.08,1826.8 1465.88,1835.8 1474.68,1832.7 1483.48,1847.0 1492.28,1843.9 1501.08,1841.6 1509.88,1838.0 1518.68,1836.8 1527.48,1838.0 1536.28,1834.9 1545.08,1838.5 1553.88,1838.0 1562.68,1838.1 1571.48,1837.2 1580.28,1828.3 1589.08,1822.1 1597.89,1823.0 1606.69,1812.0 1615.49,1813.1 1624.29,1824.9 1633.09,1813.2 1641.89,1808.1 1650.69,1809.6 1659.49,1812.4 1668.29,1812.3 1677.09,1808.4 1685.89,1804.5 1694.69,1804.5 1703.49,1804.6 1712.29,1807.8 1721.09,1801.4 1729.89,1800.7 1738.69,1801.8 1747.49,1802.5 1756.29,1802.8 1765.09,1808.8 1773.89,1818.2 1782.69,1818.7 1791.49,1822.9 1800.29,1812.0 1809.09,1814.0 1817.89,1808.8 1826.69,1814.0 1835.49,1816.8 1844.29,1814.6 1853.09,1825.7 1861.89,1819.0 1870.69,1822.1 1879.49,1833.0 1888.30,1836.9 1897.10,1835.2 1905.90,1830.5 1914.70,1826.0 1923.50,1830.7 1932.30,1840.8 1941.10,1841.9 1949.90,1845.2 1958.70,1851.3 1967.50,1855.6 1976.30,1864.2 1985.10,1858.0 1993.90,1859.8 2002.70,1857.5"/>
<polyline transform="scale(1.087,1)" fill="none" stroke="#f9500b" stroke-width="10.9" stroke-linejoin="round" stroke-linecap="butt" points="1219.47,1930.9 1228.27,1934.7 1237.07,1942.2 1245.87,1938.1 1254.67,1937.2 1263.47,1936.1 1272.27,1935.9 1281.07,1929.8 1289.87,1930.9 1298.67,1931.3 1307.47,1917.2 1316.28,1918.8 1325.08,1914.1 1333.88,1910.7 1342.68,1918.8 1351.48,1912.2 1360.28,1909.1 1369.08,1909.1 1377.88,1902.0 1386.68,1903.7 1395.48,1899.3 1404.28,1893.7 1413.08,1893.5 1421.88,1896.9 1430.68,1894.0 1439.48,1895.1 1448.28,1893.7 1457.08,1893.7 1465.88,1894.8 1474.68,1893.1 1483.48,1898.0 1492.28,1894.9 1501.08,1892.9 1509.88,1890.9 1518.68,1892.4 1527.48,1892.7 1536.28,1893.2 1545.08,1891.0 1553.88,1892.6 1562.68,1894.9 1571.48,1893.5 1580.28,1888.8 1589.08,1889.9 1597.89,1888.7 1606.69,1891.0 1615.49,1893.5 1624.29,1896.3 1633.09,1895.8 1641.89,1898.8 1650.69,1902.2 1659.49,1902.2 1668.29,1899.6 1677.09,1899.4 1685.89,1899.0 1694.69,1902.0 1703.49,1897.5 1712.29,1898.7 1721.09,1898.7 1729.89,1895.7 1738.69,1895.6 1747.49,1903.5 1756.29,1904.9 1765.09,1906.3 1773.89,1906.8 1782.69,1910.4 1791.49,1912.6 1800.29,1913.3 1809.09,1914.6 1817.89,1918.8 1826.69,1920.8 1835.49,1921.5 1844.29,1921.5 1853.09,1921.5 1861.89,1919.6 1870.69,1921.5 1879.49,1928.1 1888.30,1934.9 1897.10,1932.8 1905.90,1935.6 1914.70,1942.2 1923.50,1944.5 1932.30,1944.2 1941.10,1940.6 1949.90,1939.8 1958.70,1941.9 1967.50,1950.0 1976.30,1948.1 1985.10,1949.7 1993.90,1956.2 2002.70,1963.2"/>
<polyline transform="scale(1.087,1)" fill="none" stroke="#fdb001" stroke-width="10.9" stroke-linejoin="round" stroke-linecap="butt" points="1219.47,1981.8 1228.27,1981.8 1237.07,1986.0 1245.87,1984.3 1254.67,1983.2 1263.47,1982.7 1272.27,1982.4 1281.07,1979.8 1289.87,1979.8 1298.67,1980.2 1307.47,1969.9 1316.28,1971.5 1325.08,1967.3 1333.88,1966.7 1342.68,1967.9 1351.48,1966.5 1360.28,1965.0 1369.08,1963.5 1377.88,1962.7 1386.68,1963.1 1395.48,1961.8 1404.28,1961.8 1413.08,1960.7 1421.88,1960.9 1430.68,1960.4 1439.48,1961.4 1448.28,1961.4 1457.08,1960.6 1465.88,1959.8 1474.68,1958.7 1483.48,1962.4 1492.28,1962.0 1501.08,1962.1 1509.88,1958.7 1518.68,1960.6 1527.48,1960.9 1536.28,1961.0 1545.08,1958.7 1553.88,1962.4 1562.68,1962.4 1571.48,1961.6 1580.28,1960.9 1589.08,1959.3 1597.89,1956.5 1606.69,1958.7 1615.49,1960.6 1624.29,1960.6 1633.09,1958.6 1641.89,1960.1 1650.69,1959.8 1659.49,1964.3 1668.29,1960.6 1677.09,1959.7 1685.89,1962.0 1694.69,1963.4 1703.49,1963.7 1712.29,1967.3 1721.09,1965.9 1729.89,1968.0 1738.69,1969.8 1747.49,1972.1 1756.29,1973.5 1765.09,1974.3 1773.89,1972.1 1782.69,1971.8 1791.49,1973.5 1800.29,1972.4 1809.09,1971.8 1817.89,1974.5 1826.69,1975.7 1835.49,1979.3 1844.29,1977.7 1853.09,1977.5 1861.89,1979.0 1870.69,1979.9 1879.49,1983.7 1888.30,1984.7 1897.10,1982.7 1905.90,1982.7 1914.70,1983.7 1923.50,1984.3 1932.30,1982.7 1941.10,1988.2 1949.90,1983.5 1958.70,1986.2 1967.50,1989.1 1976.30,1990.5 1985.10,1989.7 1993.90,1995.5 2002.70,1996.3"/>
<text transform="translate(1308.80,2132.90) scale(1.087,1.04)" font-size="46.0" text-anchor="middle" fill="#1f1f1f">0</text>
<text transform="translate(1410.66,2132.90) scale(1.087,1.04)" font-size="46.0" text-anchor="middle" fill="#1f1f1f">10</text>
<text transform="translate(1506.32,2132.90) scale(1.087,1.04)" font-size="46.0" text-anchor="middle" fill="#1f1f1f">20</text>
<text transform="translate(1601.98,2132.90) scale(1.087,1.04)" font-size="46.0" text-anchor="middle" fill="#1f1f1f">30</text>
<text transform="translate(1697.64,2132.90) scale(1.087,1.04)" font-size="46.0" text-anchor="middle" fill="#1f1f1f">40</text>
<text transform="translate(1793.30,2132.90) scale(1.087,1.04)" font-size="46.0" text-anchor="middle" fill="#1f1f1f">50</text>
<text transform="translate(1888.96,2132.90) scale(1.087,1.04)" font-size="46.0" text-anchor="middle" fill="#1f1f1f">60</text>
<text transform="translate(1984.62,2132.90) scale(1.087,1.04)" font-size="46.0" text-anchor="middle" fill="#1f1f1f">70</text>
<text transform="translate(2080.27,2132.90) scale(1.087,1.04)" font-size="46.0" text-anchor="middle" fill="#1f1f1f">80</text>
<text transform="translate(2175.93,2132.90) scale(1.087,1.04)" font-size="46.0" text-anchor="middle" fill="#1f1f1f">90</text>
<text transform="translate(1292.10,2082.50) scale(1.087,1.04)" font-size="46.0" text-anchor="end" fill="#1f1f1f">0</text>
<text transform="translate(1292.10,1916.88) scale(1.087,1.04)" font-size="46.0" text-anchor="end" fill="#1f1f1f">3</text>
<text transform="translate(1292.10,1751.26) scale(1.087,1.04)" font-size="46.0" text-anchor="end" fill="#1f1f1f">6</text>
<text transform="translate(1292.10,1585.64) scale(1.087,1.04)" font-size="46.0" text-anchor="end" fill="#1f1f1f">9</text>
<text transform="translate(1292.10,1420.02) scale(1.087,1.04)" font-size="46.0" text-anchor="end" fill="#1f1f1f">12</text>
<text transform="translate(1292.10,1254.40) scale(1.087,1.04)" font-size="46.0" text-anchor="end" fill="#1f1f1f">15</text>
<text transform="translate(1748.75,2203.90) scale(1.087,1.04)" font-size="53.5" text-anchor="middle" fill="#1f1f1f">FOV No.</text>
<text transform="translate(1207.40,1650.45) scale(1.1305,1) rotate(-90)" font-size="53.5" text-anchor="middle" fill="#1f1f1f">STD (K)</text>
<text transform="translate(1328.00,1209.50) scale(1.087,1.04)" font-size="56.7" text-anchor="start" fill="#000">(d). SNOW</text>
</g>
</svg>
</body>
</html>
